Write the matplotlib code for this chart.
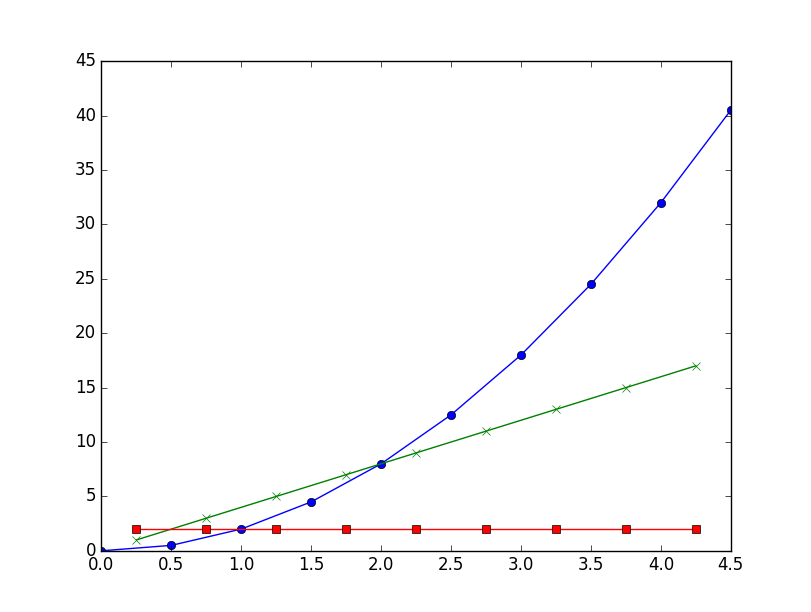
import matplotlib
matplotlib.use("Agg")
import matplotlib.pyplot as plt

plt.style.use("classic")

# blue curve
xs_blue = [0.0, 0.5, 1.0, 1.5, 2.0, 2.5, 3.0, 3.5, 4.0, 4.5]
ys_blue = [0.0, 0.5, 2.0, 4.5, 8.0, 12.5, 18.0, 24.5, 32.0, 40.5]

# green and red share x
xs_mid = [0.25, 0.75, 1.25, 1.75, 2.25, 2.75, 3.25, 3.75, 4.25]
ys_green = [1, 3, 5, 7, 9, 11, 13, 15, 17]
ys_red = [2, 2, 2, 2, 2, 2, 2, 2, 2]

fig = plt.figure(figsize=(8.12, 6.12), dpi=100)
ax = fig.add_subplot(111)

ax.plot(xs_blue, ys_blue, "bo-")
ax.plot(xs_mid, ys_green, "gx-")
ax.plot(xs_mid, ys_red, "rs-")

ax.set_xlim(0, 4.5)
ax.set_ylim(0, 45)

fig.savefig("out.png", dpi=100)
